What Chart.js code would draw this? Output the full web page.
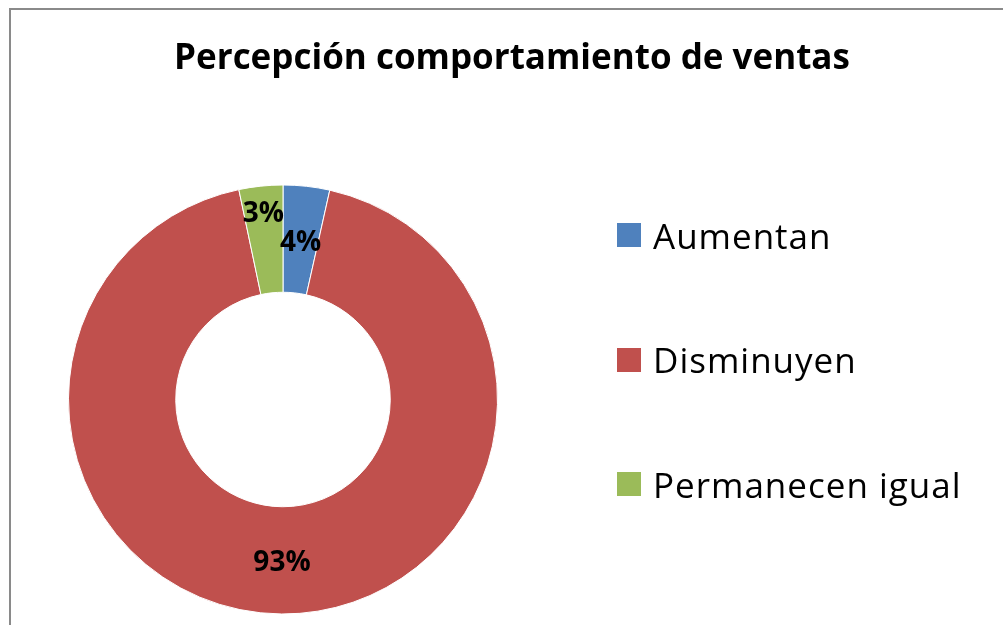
<!DOCTYPE html>
<html>
<head>
<meta charset="utf-8">
<script src="https://cdn.jsdelivr.net/npm/chart.js@4.4.0/dist/chart.umd.min.js"></script>
<style>
  html, body { margin: 0; padding: 0; background: #fff; overflow: hidden; }
  #wrap { position: relative; width: 1003px; height: 625px; overflow: hidden; }
  #frame { position: absolute; left: 9px; top: 8px; width: 1100px; height: 700px; border: 2px solid #8a8a8a; box-sizing: border-box; }
  #chart { position: absolute; left: 0; top: 0; }
  #title { position: absolute; left: 0; width: 1024px; top: 32px; line-height: 48px; text-align: center;
           font-family: "Open Sans", sans-serif; font-weight: bold; font-size: 35px; color: #000; white-space: nowrap; }
  #legend { position: absolute; left: 617px; top: 0; font-family: "Open Sans", sans-serif; font-size: 35px; letter-spacing: 1px; color: #000; }
  .item { position: absolute; left: 0; height: 48px; display: flex; align-items: center; white-space: nowrap; }
  .swatch { width: 24px; height: 24px; margin-right: 12px; flex: none; }
</style>
</head>
<body>
<div id="wrap">
  <div id="frame"></div>
  <canvas id="chart" width="1024" height="625"></canvas>
  <div id="title"></div>
  <div id="legend"></div>
</div>
<script>
const chartTitle = 'Percepción comportamiento de ventas';
const labels = ['Aumentan', 'Disminuyen', 'Permanecen igual'];
const values = [3.5, 93.2, 3.3]; // percent
const colors = ['#4F81BD', '#C0504D', '#9BBB59'];

// percent labels on the ring, pushed outward if they collide
const pctLabels = {
  id: 'pctLabels',
  afterDatasetsDraw(chart) {
    const ctx = chart.ctx;
    const meta = chart.getDatasetMeta(0);
    const size = 28;
    ctx.save();
    ctx.font = 'bold ' + size + 'px "Open Sans"';
    ctx.fillStyle = '#000';
    ctx.textAlign = 'center';
    ctx.textBaseline = 'middle';
    const placed = [];
    meta.data.forEach((arc, i) => {
      const text = Math.round(values[i]) + '%';
      const w = ctx.measureText(text).width;
      const h = size;
      const mid = (arc.startAngle + arc.endAngle) / 2;
      let r = (arc.innerRadius + arc.outerRadius) / 2;
      let x, y;
      for (let k = 0; k < 200; k++) {
        x = arc.x + Math.cos(mid) * r;
        y = arc.y + Math.sin(mid) * r;
        const hit = placed.some(p => Math.abs(p.x - x) < (p.w + w) / 2 && Math.abs(p.y - y) < (p.h + h) / 2);
        if (!hit) break;
        r += 1;
      }
      placed.push({ x, y, w, h });
      ctx.fillText(text, x, y + 3);
    });
    ctx.restore();
  }
};

function buildLegend() {
  document.getElementById('title').textContent = chartTitle;
  const box = document.getElementById('legend');
  labels.forEach((lab, i) => {
    const row = document.createElement('div');
    row.className = 'item';
    row.style.top = (235 + i * 124.5 - 24) + 'px';
    const sw = document.createElement('span');
    sw.className = 'swatch';
    sw.style.background = colors[i];
    const tx = document.createElement('span');
    tx.textContent = lab;
    row.appendChild(sw);
    row.appendChild(tx);
    box.appendChild(row);
  });
}

function draw() {
  const ctx = document.getElementById('chart').getContext('2d');
  new Chart(ctx, {
    type: 'doughnut',
    data: {
      labels: labels,
      datasets: [{
        data: values,
        backgroundColor: colors,
        borderColor: '#fff',
        borderWidth: 1,
        hoverOffset: 0
      }]
    },
    options: {
      responsive: false,
      animation: false,
      cutout: '50%',
      layout: { padding: { left: 68, right: 526, top: 184, bottom: 10 } },
      plugins: {
        legend: { display: false },
        tooltip: { enabled: false },
        title: { display: false }
      }
    },
    plugins: [pctLabels]
  });
}

buildLegend();
Promise.all([
  document.fonts.load('bold 28px "Open Sans"'),
  document.fonts.load('35px "Open Sans"')
]).then(draw, draw);
</script>
</body>
</html>
